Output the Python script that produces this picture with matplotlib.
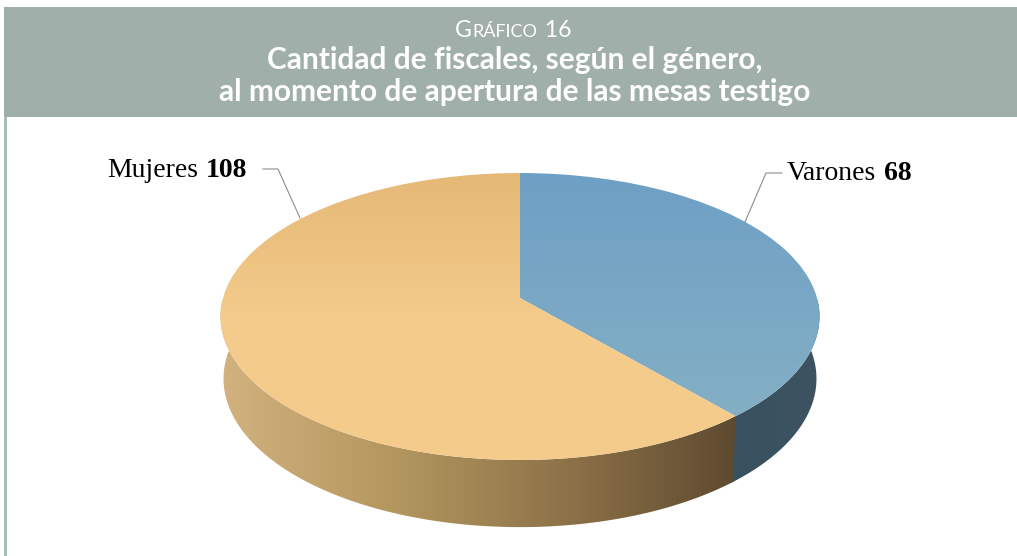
import numpy as np
import matplotlib
matplotlib.use('Agg')
from matplotlib import pyplot as plt
from matplotlib.colors import LinearSegmentedColormap
from matplotlib.patches import Rectangle, Polygon
from matplotlib.transforms import Transform

###########################################################

categories = ['Varones', 'Mujeres']
values = [68, 108]
title_lines = ['Cantidad de fiscales, según el género,',
               'al momento de apertura de las mesas testigo']

headerColor = '#A1AFAA'
leaderColor = '#8C8C8C'

###########################################################

class Perspective(Transform):
    # tilted disc: unit circle from ax.pie to figure pixels
    input_dims = 2
    output_dims = 2
    is_separable = False
    has_inverse = False

    def __init__(self, cx, cy, a, b, k):
        super().__init__()
        self.cx, self.cy, self.a, self.b, self.k = cx, cy, a, b, k

    def transform_non_affine(self, xy):
        xy = np.asarray(xy)
        u = xy[:, 0]
        v = -xy[:, 1]
        w = 1 + self.k*v
        return np.column_stack([self.cx + self.a*u/w, self.cy + self.b*v/w])


top = Perspective(520, 298, 297, 141.1, -0.129)
bottom = Perspective(520, 359.5, 294, 146, -0.129)

my_dpi = 100
fig = plt.figure(figsize=(1017/my_dpi, 556/my_dpi), dpi=my_dpi)
ax = fig.add_axes([0, 0, 1, 1])

wedges, _ = ax.pie(values, startangle=90, counterclock=False)
ax.set_aspect('auto')
ax.set_xlim(0, 1017)
ax.set_ylim(556, 0)
ax.axis('off')

# header band and left rule
ax.add_patch(Rectangle((4, 7), 1013, 110, color=headerColor, lw=0, zorder=1))
ax.add_patch(Rectangle((4, 117), 3, 439, color='#A9BCB5', lw=0, zorder=1))


def gradient(colors, horizontal, extent, clip, z):
    cmap = LinearSegmentedColormap.from_list('g', colors)
    ramp = np.linspace(0, 1, 256)
    ramp = ramp[None, :] if horizontal else ramp[:, None]
    im = ax.imshow(ramp, cmap=cmap, extent=extent, aspect='auto', zorder=z, interpolation='bilinear')
    im.set_clip_path(clip)


# side walls, from the slice angles
edges = np.cumsum([0] + values)/np.sum(values)*2*np.pi
wallColors = [['#38505F', '#3B5260', '#3E5361'], ['#D2B27E', '#B4975F', '#8E7349', '#5E4A30']]
for i in range(len(values)):
    # blue runs a bit under the orange so no seam shows
    t = np.linspace(edges[i], edges[i+1] + (0.02 if i == 0 else 0), 200)
    ring = np.column_stack([np.sin(t), np.cos(t)])
    outline = np.vstack([top.transform_non_affine(ring), bottom.transform_non_affine(ring)[::-1]])
    wall = Polygon(outline, closed=True, transform=ax.transData, fc='none', ec='none', zorder=2)
    ax.add_patch(wall)
    if i == 0:
        gradient(wallColors[i], True, (730, 825, 530, 300), wall, 2)
    else:
        gradient(wallColors[i], True, (220, 736, 530, 300), wall, 2.1)

# top face
faceColors = [['#6E9FC4', '#88B2C5'], ['#E5B876', '#F4CB8B', '#F4CB8B']]
for i, w in enumerate(wedges):
    w.set_transform(top + ax.transData)
    w.set_facecolor('none')
    w.set_edgecolor('none')
    w.set_zorder(3)
    gradient(faceColors[i], False, (215, 825, 465, 170), w, 3)

ax.set_xlim(0, 1017)
ax.set_ylim(556, 0)

# leaders
ax.plot([263, 278, 300], [169, 169, 218], color=leaderColor, lw=0.8, zorder=4)
ax.plot([782, 766, 745], [173, 173, 222], color=leaderColor, lw=0.8, zorder=4)

# labels
serif = 'Liberation Serif'
ax.text(107, 177, categories[1], family=serif, fontsize=20, color='black', va='baseline', zorder=5)
ax.text(206, 177, str(values[1]), family=serif, fontsize=20, weight='bold', color='black', va='baseline', zorder=5)
ax.text(787, 180, categories[0], family=serif, fontsize=20, color='black', va='baseline', zorder=5)
ax.text(884, 180, str(values[0]), family=serif, fontsize=20, weight='bold', color='black', va='baseline', zorder=5)

# titles
ax.text(515, 69, title_lines[0], family='Lato', fontsize=21.5, weight='bold', color='white', ha='center', va='baseline', zorder=5)
ax.text(515, 101, title_lines[1], family='Lato', fontsize=21.5, weight='bold', color='white', ha='center', va='baseline', zorder=5)

# small caps heading
x = 455
r = fig.canvas.get_renderer()
for piece, size in [('G', 16.5), ('RÁFICO', 13), (' 16', 16.5)]:
    t = ax.text(x, 37, piece, family='Lato', fontsize=size, color='white', va='baseline', zorder=5)
    x = t.get_window_extent(r).x1 + 1

plt.savefig('out.png', dpi=my_dpi)
